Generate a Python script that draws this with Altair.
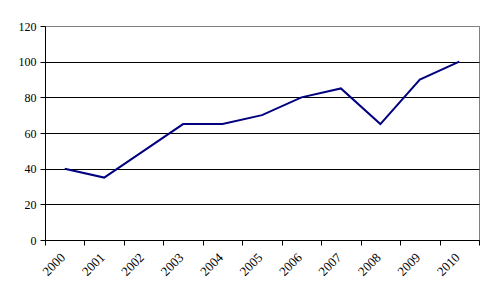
import altair as alt
import pandas as pd

years = ["2000", "2001", "2002", "2003", "2004", "2005", "2006", "2007", "2008", "2009", "2010"]
values = [40, 35, 50, 65, 65, 70, 80, 85, 65, 90, 100]

df = pd.DataFrame({"year": years, "value": values})

chart = alt.Chart(df).mark_line(color="#000080", strokeWidth=2).encode(
    x=alt.X("year:N", sort=years, title=None,
            scale=alt.Scale(paddingInner=0, paddingOuter=0),
            axis=alt.Axis(labelAngle=315, labelAlign="right", labelBaseline="middle",
                          tickBand="extent", domainColor="black", tickColor="black",
                          tickSize=5, labelPadding=10, labelOffset=-2,
                          labelFont="Liberation Serif",
                          labelFontSize=13, labelColor="black", grid=False)),
    y=alt.Y("value:Q", title=None,
            scale=alt.Scale(domain=[0, 120], nice=False),
            axis=alt.Axis(values=[0, 20, 40, 60, 80, 100, 120],
                          grid=True,
                          gridColor={"condition": {"test": "datum.value === 120", "value": "#808080"}, "value": "black"},
                          gridOpacity=1, domainColor="black", tickColor="black",
                          tickSize=5, labelPadding=4, labelFont="Liberation Serif",
                          labelFontSize=12, labelColor="black")),
).properties(
    width=434, height=214,
    autosize=alt.AutoSizeParams(type="none"),
    padding={"left": 45, "top": 26, "right": 15, "bottom": 57},
).configure_view(stroke="#808080", strokeWidth=1).configure_axis(
    domainWidth=1, tickWidth=1, gridWidth=1
)

chart.save("out.html", embed_options={"renderer": "svg", "actions": False})
